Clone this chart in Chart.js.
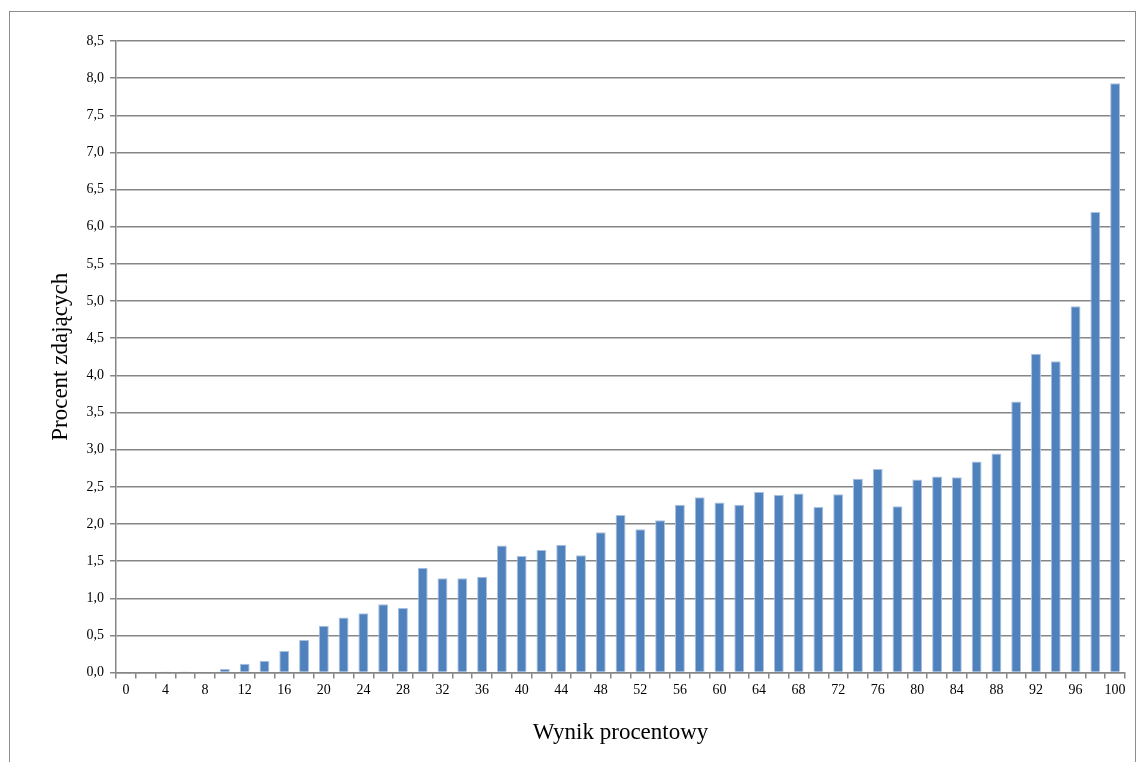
<!DOCTYPE html>
<html>
<head>
<meta charset="utf-8">
<script src="https://cdn.jsdelivr.net/npm/chart.js@4"></script>
<style>
  body { margin: 0; background: #fff; }
  #frame { position: absolute; left: 9px; top: 11px; width: 1125px; height: 760px;
           border: 1px solid #8c8c8c; border-bottom: none; }
  #wrap { position: absolute; left: 0; top: 0; width: 1141px; height: 762px; }
</style>
</head>
<body>
<div id="frame"></div>
<div id="wrap"><canvas id="chart"></canvas></div>
<script>
// wynik procentowy 0..100 co 2
const scores = [];
for (let s = 0; s <= 100; s += 2) scores.push(String(s));

const percent = [
  0, 0, 0.005, 0.005, 0.01, 0.05, 0.12, 0.16, 0.29, 0.44,
  0.63, 0.74, 0.80, 0.92, 0.87, 1.41, 1.27, 1.27, 1.29, 1.71,
  1.57, 1.65, 1.72, 1.58, 1.89, 2.12, 1.93, 2.05, 2.26, 2.36,
  2.29, 2.26, 2.43, 2.39, 2.41, 2.23, 2.40, 2.61, 2.74, 2.24,
  2.60, 2.64, 2.63, 2.84, 2.95, 3.65, 4.29, 4.19, 4.93, 6.20,
  7.93
];

const yMax = 8.5;
const yStep = 0.5;

const serif = "'Liberation Serif', 'DejaVu Serif', serif";
const gridColor = '#868686';

new Chart(document.getElementById('chart'), {
  type: 'bar',
  data: {
    labels: scores,
    datasets: [{
      label: 'Procent zdających',
      data: percent,
      backgroundColor: '#4f81bd',
      borderColor: '#a9c1e0',
      borderWidth: { left: 1, right: 1, top: 1, bottom: 0 },
      barPercentage: 0.5,
      categoryPercentage: 1.0
    }]
  },
  options: {
    responsive: true,
    maintainAspectRatio: false,
    animation: false,
    layout: { padding: { top: 41, left: 43, right: 16, bottom: 11 } },
    plugins: { legend: { display: false }, tooltip: { enabled: false } },
    scales: {
      x: {
        grid: { display: true, offset: true, drawOnChartArea: false, color: gridColor,
                lineWidth: 1.5, tickLength: 6 },
        border: { color: gridColor, width: 1.5 },
        ticks: {
          autoSkip: false, maxRotation: 0, color: '#000', padding: 3,
          font: { family: serif, size: 14 },
          callback: function (v, i) { return i % 2 === 0 ? scores[i] : ''; }
        },
        title: { display: true, text: 'Wynik procentowy', color: '#000',
                 font: { family: serif, size: 23 }, padding: { top: 18 } }
      },
      y: {
        min: 0, max: yMax,
        grid: { color: gridColor, lineWidth: 1.5, tickLength: 6 },
        border: { color: gridColor, width: 1.5 },
        ticks: {
          stepSize: yStep, color: '#000', padding: 6,
          font: { family: serif, size: 14 },
          callback: function (v) { return v.toFixed(1).replace('.', ','); }
        },
        title: { display: true, text: 'Procent zdających', color: '#000',
                 font: { family: serif, size: 23 }, padding: { bottom: 6 } }
      }
    }
  }
});
</script>
</body>
</html>
